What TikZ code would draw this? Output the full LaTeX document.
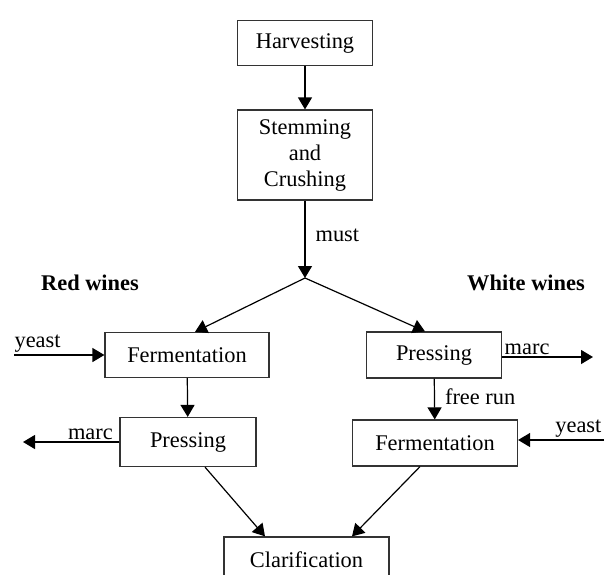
\documentclass[tikz,border=0pt]{standalone}
\usepackage{fontspec}
\setmainfont{Liberation Serif}
\usetikzlibrary{arrows.meta}
\begin{document}
\begin{tikzpicture}[x=0.5pt, y=-0.5pt, semithick, >={Triangle[length=6pt,width=7pt]},
    every node/.style={font=\fontsize{11.2}{13}\selectfont}]
    \tikzset{stage/.style={draw=black!80, line width=0.6pt, inner sep=2pt, align=center},
             tag/.style={inner sep=1pt},
             group/.style={font=\fontsize{11.2}{13}\selectfont\bfseries}};
    \useasboundingbox (0,0) rectangle (606,574);
    % main chain
    \node[stage, minimum width=67.5pt, minimum height=22.5pt] (harv) at (305,43) {Harvesting};
    \node[stage, minimum width=67.5pt, minimum height=45pt] (stem) at (305,155) {Stemming\\and\\Crushing};
    \coordinate (split) at (305,278);
    \node[group] (red) at (90,283) {Red wines};
    \node[group] (white) at (526,283) {White wines};
    % red wines
    \node[stage, minimum width=82pt, minimum height=22.5pt] (fermR) at (187,355) {Fermentation};
    \node[stage, minimum width=68pt, minimum height=24.5pt] (pressR) at (188,442) {Pressing};
    % white wines
    \node[stage, minimum width=67.5pt, minimum height=23pt] (pressW) at (434,355) {Pressing};
    \node[stage, minimum width=82.5pt, minimum height=23pt] (fermW) at (435,443) {Fermentation};
    \node[stage, minimum width=82.5pt, minimum height=23pt] (clar) at (306.5,560) {Clarification};
    % free ends
    \coordinate (yeastR) at (14,355);
    \coordinate (marcR) at (23,442);
    \coordinate (marcW) at (593,357);
    \coordinate (yeastW) at (604,440);
    {
       \path[->]
        (harv) edge (stem)
        (stem) edge node[tag, right, xshift=4pt, pos=0.45] {must} (split)
        (split) edge ([xshift=4pt]fermR.north)
        (split) edge ([xshift=-4.5pt]pressW.north)
        (yeastR) edge node[tag, pos=0, anchor=south west, xshift=-1pt] {yeast} (fermR.west)
        (fermR) edge (pressR)
        (pressR.west) edge node[tag, pos=0, anchor=south east, xshift=-2pt] {marc} (marcR)
        (pressW.east |- marcW) edge node[tag, pos=0, anchor=south west] {marc} (marcW)
        (pressW) edge node[tag, right, xshift=4pt, pos=0.45] {free run} (fermW)
        (yeastW) edge node[tag, pos=0, anchor=south east] {yeast} (fermW.east |- yeastW)
        ([xshift=8.5pt]pressR.south) edge ([xshift=-20.75pt]clar.north)
        ([xshift=-7.5pt]fermW.south) edge ([xshift=22.75pt]clar.north)
        ;
      }
\end{tikzpicture}
\end{document}
